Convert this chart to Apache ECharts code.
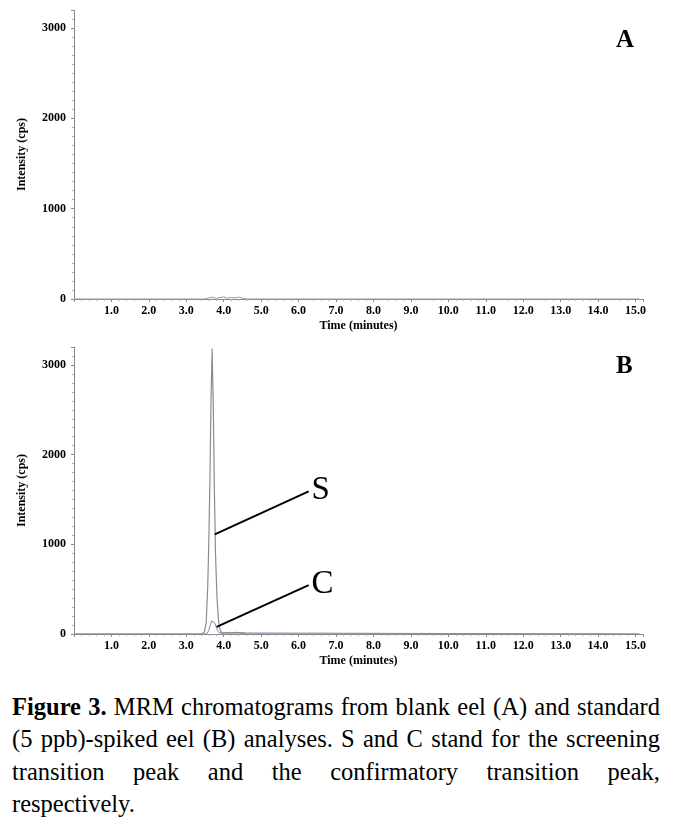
<!DOCTYPE html>
<html>
<head>
<meta charset="utf-8">
<script src="https://cdn.jsdelivr.net/npm/echarts@6/dist/echarts.min.js"></script>
<style>
  html, body { margin: 0; padding: 0; background: #fff; }
  #chart { position: absolute; left: 0; top: 0; width: 674px; height: 680px; }
  #caption { position: absolute; left: 12px; top: 691px; width: 648px;
    font-family: "Liberation Serif", "Times New Roman", serif; font-size: 24.5px; line-height: 32.4px; color: #000; }
  #caption .j { text-align: justify; text-align-last: justify; white-space: nowrap; }
  #caption .l { text-align: left; }
</style>
</head>
<body>
<div id="chart"></div>
<div id="caption">
  <div class="j"><b>Figure 3.</b> MRM chromatograms from blank eel (A) and standard</div>
  <div class="j">(5 ppb)-spiked eel (B) analyses. S and C stand for the screening</div>
  <div class="j">transition peak and the confirmatory transition peak,</div>
  <div class="l">respectively.</div>
</div>
<script>
// ---- data (time in minutes, intensity in cps) ----
const xTickLabels = ['1.0','2.0','3.0','4.0','5.0','6.0','7.0','8.0','9.0','10.0','11.0','12.0','13.0','14.0','15.0'];
const yTickLabels = ['0','1000','2000','3000'];

// Panel A: blank eel - flat baseline with tiny noise
const timeA      = [0, 3.50, 3.60, 3.70, 3.80, 3.90, 4.00, 4.10, 4.20, 4.30, 4.40, 4.50, 4.60, 15.1];
const intensityA = [0, 0,    12,   20,   8,    15,   22,   10,   18,   12,   20,   9,    0,    0];

// Panel B: screening transition (S)
const timeS      = [0, 3.40, 3.48, 3.53, 3.57, 3.60, 3.63, 3.66, 3.69, 3.72, 3.75, 3.78, 3.82, 3.86, 3.90, 3.95, 4.00, 4.10, 4.20, 4.30, 4.40, 4.50, 4.60, 15.1];
const intensityS = [0, 0,    20,   120,  500,  1000, 1700, 2600, 3180, 2550, 1600, 900,  400,  150,  50,   10,   0,    15,   10,   18,   12,   16,   0,    0];

// Panel B: confirmatory transition (C)
const timeC      = [0, 3.50, 3.56, 3.60, 3.64, 3.68, 3.72, 3.76, 3.80, 3.84, 3.88, 3.92, 15.1];
const intensityC = [0, 0,    10,   40,   100,  145,  150,  125,  75,   35,   12,   0,    0];

// leader lines for peak annotations (data coordinates)
const leaderS = [[3.76, 1110], [6.27, 1590]];
const leaderC = [[3.81, 80],   [6.27, 545]];

const pairs = (xs, ys) => xs.map((x, i) => [x, ys[i]]);

const serif = '"Liberation Serif", "Times New Roman", serif';
const axisGray = '#8a8a8a';

function xAxisDef(gridIndex) {
  return {
    type: 'value', gridIndex, min: 0, max: 15.2, interval: 1,
    name: 'Time (minutes)', nameLocation: 'middle', nameGap: 21,
    nameTextStyle: { fontFamily: serif, fontWeight: 'bold', fontSize: 12, color: '#000' },
    axisLine: { show: true, onZero: false, lineStyle: { color: axisGray, width: 1 } },
    axisTick: { show: true, length: 3, lineStyle: { color: axisGray } },
    minorTick: { show: true, splitNumber: 5, length: 2, lineStyle: { color: '#b0b0b0' } },
    splitLine: { show: false },
    axisLabel: {
      fontFamily: serif, fontWeight: 'bold', fontSize: 12, color: '#000', margin: 6,
      showMinLabel: false, showMaxLabel: false,
      formatter: v => { const i = Math.round(v) - 1; return (Math.abs(v - Math.round(v)) < 1e-6 && i >= 0 && i < xTickLabels.length) ? xTickLabels[i] : ''; }
    }
  };
}
function yAxisDef(gridIndex) {
  return {
    type: 'value', gridIndex, min: 0, max: 3200, interval: 1000,
    name: 'Intensity (cps)', nameLocation: 'middle', nameGap: 46, nameRotate: 90,
    nameTextStyle: { fontFamily: serif, fontWeight: 'bold', fontSize: 12, color: '#000' },
    axisLine: { show: true, lineStyle: { color: axisGray, width: 1 } },
    axisTick: { show: true, length: 3, lineStyle: { color: axisGray } },
    minorTick: { show: true, splitNumber: 10, length: 2, lineStyle: { color: '#b0b0b0' } },
    splitLine: { show: false },
    axisLabel: {
      fontFamily: serif, fontWeight: 'bold', fontSize: 12, color: '#000', margin: 8,
      showMaxLabel: false,
      formatter: v => { const i = Math.round(v / 1000); return (v % 1000 === 0 && i < yTickLabels.length) ? yTickLabels[i] : ''; }
    }
  };
}

function leader(coords, text) {
  return {
    silent: true, symbol: ['none', 'none'], animation: false,
    lineStyle: { color: '#000', width: 2, type: 'solid' },
    label: { show: true, position: 'end', formatter: text, distance: 3,
      padding: [10, 0, 0, 0],
      fontFamily: serif, fontSize: 33, color: '#000' },
    emphasis: { disabled: true },
    data: [[{ coord: coords[0] }, { coord: coords[1] }]]
  };
}

const chart = echarts.init(document.getElementById('chart'), null, { renderer: 'canvas' });
chart.setOption({
  animation: false,
  backgroundColor: '#fff',
  grid: [
    { left: 74, top: 10, width: 569, height: 289 },
    { left: 74, top: 347, width: 569, height: 287 }
  ],
  xAxis: [xAxisDef(0), xAxisDef(1)],
  yAxis: [yAxisDef(0), yAxisDef(1)],
  graphic: [
    { type: 'text', left: 616, top: 28, style: { text: 'A', font: 'bold 25px ' + serif, fill: '#000' } },
    { type: 'text', left: 616, top: 354, style: { text: 'B', font: 'bold 25px ' + serif, fill: '#000' } }
  ],
  series: [
    { type: 'line', name: 'Blank', xAxisIndex: 0, yAxisIndex: 0, data: pairs(timeA, intensityA),
      showSymbol: false, lineStyle: { color: '#9a9a9a', width: 1 } },
    { type: 'line', name: 'C', xAxisIndex: 1, yAxisIndex: 1, data: pairs(timeC, intensityC),
      showSymbol: false, lineStyle: { color: '#7e86b0', width: 1 }, markLine: leader(leaderC, 'C') },
    { type: 'line', name: 'S', xAxisIndex: 1, yAxisIndex: 1, data: pairs(timeS, intensityS),
      showSymbol: false, lineStyle: { color: '#8c8c8c', width: 1.2 }, markLine: leader(leaderS, 'S') }
  ]
});
</script>
</body>
</html>
